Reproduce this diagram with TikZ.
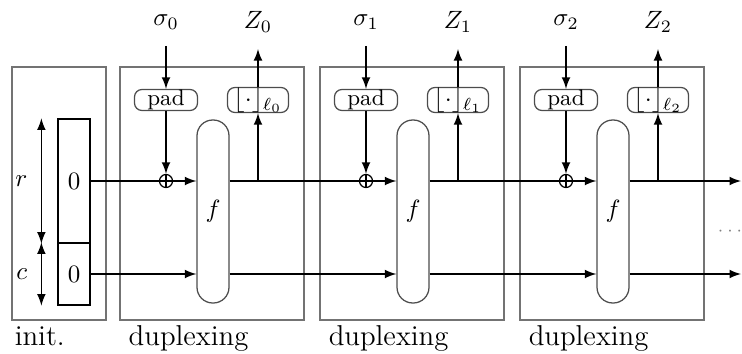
\documentclass[tikz,border=0pt]{standalone}
\usetikzlibrary{arrows,calc,positioning}
\begin{document}
\begin{tikzpicture}[x=0.4pt,y=-0.4pt,>=latex,line width=0.6pt,
  frame/.style={draw=black!55,line width=0.5pt},
  lbl/.style={font=\fontsize{11.5}{13}\selectfont,inner sep=0pt},
  stack/.style={draw,line width=0.5pt,minimum width=12.8pt,inner sep=0pt},
  padbox/.style={draw=black!70,line width=0.5pt,rounded corners=3pt,minimum width=25.2pt,minimum height=8.4pt,inner sep=0pt,font=\small},
  truncbox/.style={draw=black!70,line width=0.5pt,rounded corners=3pt,minimum width=24.4pt,minimum height=8.4pt,inner sep=0pt},
  perm/.style={draw=black!70,line width=0.5pt,rounded corners=6.3pt,minimum width=12.8pt,minimum height=73.2pt,inner sep=0pt},
  xor/.style={circle,draw,line width=0.5pt,inner sep=0pt,minimum size=5.2pt,
    path picture={\draw[line width=0.5pt] (path picture bounding box.north) -- (path picture bounding box.south)
      (path picture bounding box.west) -- (path picture bounding box.east);}}]
\useasboundingbox (0,0) rectangle (742,354);

% initialisation
\draw[frame] (12,67) rectangle (106,320);
\node[lbl,anchor=base west] at (14,345) {init.};
\node[stack,minimum height=49.6pt] (rate) at (74,181) {0};
\node[stack,minimum height=24.8pt] (cap) at (74,274) {0};
\draw[<->] ($(rate.north west)+(-16,0)$) -- ($(rate.south west)+(-16,0)$) coordinate[midway] (rmid);
\draw[<->] ($(cap.north west)+(-16,0)$) -- ($(cap.south west)+(-16,0)$) coordinate[midway] (cmid);
\node[left=2pt of rmid] {$r$};
\node[left=2pt of cmid] {$c$};

% duplexing rounds
\foreach \i in {0,1,2} {
  \begin{scope}[xshift=\i*80pt]
    \draw[frame] (120,67) rectangle (304,320);
    \node[lbl,anchor=base west] at (128,345) {duplexing};
    \node (sig\i) at (166,22) {$\sigma_\i$};
    \node (z\i) at (258,22) {$Z_\i$};
    \node[padbox] (pad\i) at (166,100) {pad};
    \node[truncbox] (tr\i) at (258,100) {$\lfloor\cdot\rfloor_{\ell_\i}$};
    \node[xor] (x\i) at (166,181) {};
    \node[perm] (f\i) at (213,211.5) {$f$};
    \coordinate (o\i) at (258,181);
    \draw[->,shorten <=3pt] (sig\i) -- (pad\i);
    \draw[->] (pad\i) -- (x\i);
    \draw[->] (x\i) -- (f\i.west |- x\i);
    \draw[->] (o\i) -- (tr\i);
    \draw[->,shorten >=3pt] (tr\i) -- (z\i);
  \end{scope}
}

% state lines
\draw (rate) -- (x0);
\draw[->] (cap) -- (f0.west |- cap);
\foreach \i/\j in {0/1,1/2} {
  \draw (f\i.east |- x\i) -- (x\j);
  \draw[->] (f\i.east |- cap) -- (f\j.west |- cap);
}
\coordinate (endtop) at (741,181);
\coordinate (endbot) at (741,274);
\draw[->] (f2.east |- x2) -- (endtop);
\draw[->] (f2.east |- cap) -- (endbot);
\node[text=black!50,font=\scriptsize] (dots) at (730,231) {$\cdots$};
\end{tikzpicture}
\end{document}
